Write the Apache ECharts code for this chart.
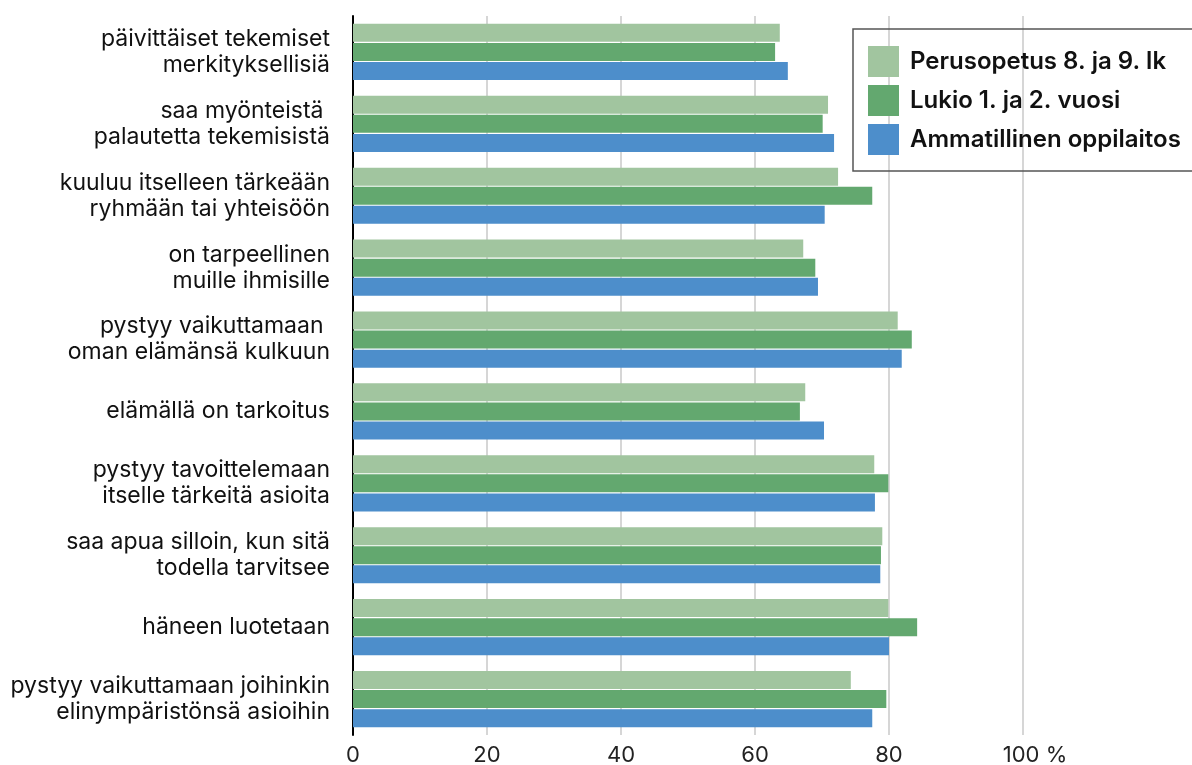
<!DOCTYPE html>
<html>
<head>
<meta charset="utf-8">
<script src="https://cdn.jsdelivr.net/npm/echarts@6/dist/echarts.min.js"></script>
<style>
html,body{margin:0;padding:0;background:#fff;}
#chart{width:1192px;height:765px;}
</style>
</head>
<body>
<div id="chart"></div>
<script>
const categories = [
  "päivittäiset tekemiset\nmerkityksellisiä",
  "saa myönteistä \npalautetta tekemisistä",
  "kuuluu itselleen tärkeään\nryhmään tai yhteisöön",
  "on tarpeellinen\nmuille ihmisille",
  "pystyy vaikuttamaan \noman elämänsä kulkuun",
  "elämällä on tarkoitus",
  "pystyy tavoittelemaan\nitselle tärkeitä asioita",
  "saa apua silloin, kun sitä\ntodella tarvitsee",
  "häneen luotetaan",
  "pystyy vaikuttamaan joihinkin\nelinympäristönsä asioihin"
];
const seriesNames = ["Perusopetus 8. ja 9. lk", "Lukio 1. ja 2. vuosi", "Ammatillinen oppilaitos"];
const perusopetus = [63.7, 70.9, 72.4, 67.2, 81.3, 67.5, 77.8, 79.0, 79.9, 74.3];
const lukio       = [63.0, 70.1, 77.5, 69.0, 83.4, 66.7, 79.9, 78.8, 84.2, 79.6];
const ammatillinen= [64.9, 71.8, 70.4, 69.4, 81.9, 70.3, 77.9, 78.7, 80.0, 77.5];
const xTicks = [0, 20, 40, 60, 80, 100];
const xTickLabels = ["0", "20", "40", "60", "80", "100"];
const unitLabel = " %";

const colors = ["#a1c59f", "#63a86f", "#4d8ecb"];
const chart = echarts.init(document.getElementById('chart'), null, {renderer: 'canvas'});
const font = "Inter, 'Noto Sans', sans-serif";
const seriesData = [perusopetus, lukio, ammatillinen];
chart.setOption({
  animation: false,
  textStyle: {fontFamily: font},
  grid: {left: 353, right: 169, top: 16, bottom: 30, containLabel: false, outerBoundsMode: 'none'},
  legend: {
    left: 853, top: 29,
    orient: 'vertical',
    itemWidth: 31, itemHeight: 31, itemGap: 8,
    icon: 'rect',
    borderColor: '#555', borderWidth: 1.5,
    padding: [17, 20, 16, 15],
    textStyle: {fontSize: 24, fontWeight: 600, color: '#111', fontFamily: font, padding: [0, 0, 0, 6]},
    data: seriesNames
  },
  xAxis: {
    type: 'value', min: 0, max: 100, interval: 20,
    axisLine: {show: false},
    axisTick: {show: false},
    splitLine: {show: true, lineStyle: {color: '#c8c8c8', width: 1.5}},
    axisLabel: {
      fontSize: 22, color: '#222', margin: 9, fontFamily: font,
      formatter: function (v) {
        const i = xTicks.indexOf(v);
        if (i < 0) return '';
        if (i === xTicks.length - 1) return '{pad|}' + xTickLabels[i] + unitLabel;
        return xTickLabels[i];
      },
      rich: {pad: {width: 24, fontSize: 22}}
    }
  },
  yAxis: {
    type: 'category', inverse: true, data: categories,
    axisLine: {show: true, lineStyle: {color: '#000', width: 2}},
    axisTick: {show: false},
    axisLabel: {fontSize: 23, color: '#111', lineHeight: 26, margin: 23, align: 'right', fontFamily: font}
  },
  series: seriesNames.map((n, i) => ({
    name: n, type: 'bar', data: seriesData[i],
    barWidth: 18, barGap: '6%', barCategoryGap: '22%',
    itemStyle: {color: colors[i]}
  }))
});
</script>
</body>
</html>
